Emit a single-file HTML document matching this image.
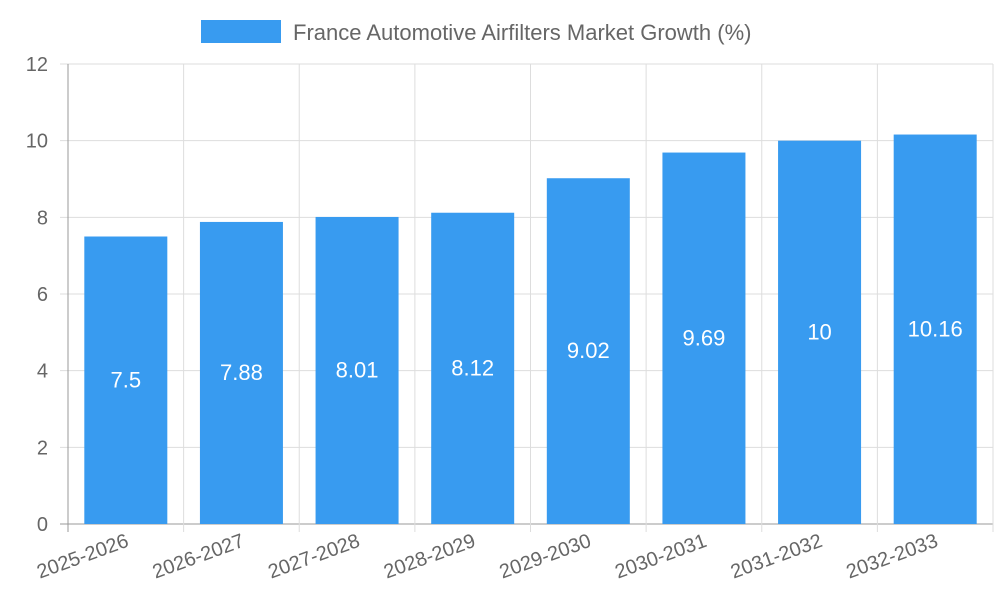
<!DOCTYPE html>
<html><head><meta charset="utf-8"><style>
html,body{margin:0;padding:0;background:#fff;}
svg{display:block;font-family:"Liberation Sans",sans-serif;}
</style></head><body>
<svg id="chart" width="1000" height="600">
<g>
<rect x="201" y="20" width="80" height="23" fill="#389bf0"/>
<text x="293" y="40" font-size="22" fill="#666">France Automotive Airfilters Market Growth (%)</text>
</g>
<g id="grid"></g><g id="bars"></g><g id="labels"></g>
</svg>
<script>
const categories=["2025-2026","2026-2027","2027-2028","2028-2029","2029-2030","2030-2031","2031-2032","2032-2033"];
const values=[7.5,7.88,8.01,8.12,9.02,9.69,10,10.16];
const valueLabels=["7.5","7.88","8.01","8.12","9.02","9.69","10","10.16"];
const yTicks=[0,2,4,6,8,10,12];
const NS="http://www.w3.org/2000/svg";
const L=68,R=993,T=64,B=524,yMax=12;
const y=v=>B-(v/yMax)*(B-T);
const bw=(R-L)/categories.length;
const x=i=>L+bw*i;
function mk(tag,attrs,parent,text){const e=document.createElementNS(NS,tag);for(const k in attrs)e.setAttribute(k,attrs[k]);if(text!==undefined)e.textContent=text;parent.appendChild(e);return e;}
const grid=document.getElementById('grid'),bars=document.getElementById('bars'),labels=document.getElementById('labels');
yTicks.forEach(t=>{
 const l=mk('line',{x1:60,x2:R,y1:y(t),y2:y(t),stroke:t===0?'#999':'#ddd','stroke-width':1},grid);
 
 
 const tx=mk('text',{x:48,y:y(t)+7,'font-size':20,fill:'#666','text-anchor':'end'},labels,String(t));
 
 
});
for(let i=0;i<=categories.length;i++){
 const l=mk('line',{x1:x(i),x2:x(i),y1:T,y2:B+8,stroke:i===0?'#999':'#ddd','stroke-width':1},grid);
 
 
}
categories.forEach((c,i)=>{
 const cx=x(i)+bw/2,w=83;
 const r=mk('rect',{x:cx-w/2,y:y(values[i]),width:w,height:B-y(values[i]),fill:'#389bf0'},bars);
 
 
 const v=mk('text',{x:cx,y:(y(values[i])+B)/2+7,'font-size':22,fill:'#fff','text-anchor':'middle'},labels,valueLabels[i]);
 
 
 const xl=mk('text',{x:0,y:0,'font-size':20,fill:'#666','text-anchor':'end',transform:`translate(${cx+4},${546}) rotate(-20)`},labels,c);
 
 
});
</script>
</body></html>
